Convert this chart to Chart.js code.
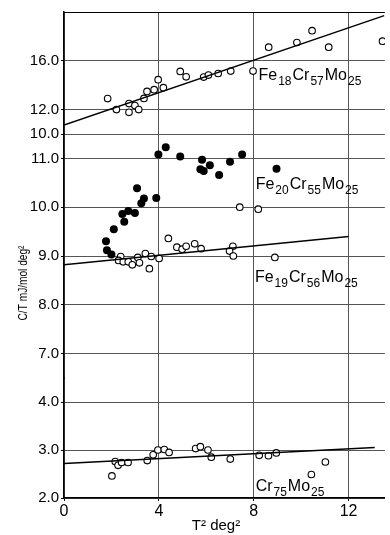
<!DOCTYPE html>
<html>
<head>
<meta charset="utf-8">
<script src="https://cdn.jsdelivr.net/npm/chart.js@4.4.1/dist/chart.umd.min.js"></script>
<style>
  body { margin: 0; background: #fff; }
</style>
</head>
<body>
<canvas id="myChart" width="390" height="535"></canvas>
<script>
// tick values for the x axis and the three pieces of the broken y axis
const xTicks = [0, 4, 8, 12];
const topTicks = [10, 12, 16];
const midTicks = [7, 8, 9, 10, 11];
const botTicks = [2, 3, 4];

// Fe18Cr57Mo25 (open circles, upper panel)
const fe18T2 = [1.84, 2.21, 2.74, 2.74, 2.99, 3.15, 3.37, 3.50, 3.80, 3.97, 4.19, 4.90, 5.15, 5.89, 6.09, 6.50, 7.03, 7.97, 8.63, 9.82, 10.46, 11.16, 13.43];
const fe18CT = [12.90, 12.00, 11.78, 12.49, 12.33, 12.00, 12.92, 13.49, 13.63, 14.45, 13.80, 15.13, 14.69, 14.67, 14.83, 14.96, 15.16, 15.16, 17.12, 17.50, 18.47, 17.12, 17.61];
const fe18FitT2 = [0, 13.5];
const fe18FitCT = [10.74, 19.7];

// Fe20Cr55Mo25 (filled circles)
const fe20T2 = [1.77, 1.81, 2.00, 2.10, 2.54, 2.46, 2.71, 2.99, 3.08, 3.26, 3.37, 3.89, 3.98, 4.29, 4.90, 5.82, 5.75, 5.89, 6.15, 6.54, 7.00, 7.51, 8.96];
const fe20CT = [9.30, 9.12, 9.03, 9.55, 9.70, 9.86, 9.92, 9.88, 10.39, 10.08, 10.18, 10.19, 11.08, 11.23, 11.04, 10.97, 10.78, 10.74, 10.86, 10.66, 10.93, 11.08, 10.79];

// Fe19Cr56Mo25 (open circles, middle panel)
const fe19T2 = [7.41, 8.19, 4.40, 4.76, 4.98, 5.15, 5.51, 5.78, 7.12, 6.98, 7.14, 8.89, 2.39, 2.30, 2.50, 2.71, 2.88, 3.11, 3.18, 3.43, 3.68, 3.60, 4.01];
const fe19CT = [10.00, 9.96, 9.36, 9.18, 9.14, 9.20, 9.25, 9.15, 9.20, 9.10, 9.00, 8.97, 8.99, 8.91, 8.88, 8.88, 8.82, 8.97, 8.86, 9.05, 8.99, 8.74, 8.95];
const fe19FitT2 = [0, 12];
const fe19FitCT = [8.82, 9.40];

// Cr75Mo25 (open circles, lower panel)
const cr75T2 = [2.02, 2.16, 2.28, 2.43, 2.70, 3.51, 3.76, 3.96, 4.23, 4.43, 5.55, 5.75, 6.07, 6.21, 7.01, 8.23, 8.62, 8.95, 10.43, 11.02];
const cr75CT = [2.46, 2.76, 2.68, 2.74, 2.74, 2.78, 2.90, 3.00, 3.01, 2.95, 3.03, 3.07, 3.00, 2.85, 2.81, 2.89, 2.88, 2.94, 2.49, 2.75];
const cr75FitT2 = [0, 13.1];
const cr75FitCT = [2.72, 3.05];

// curve labels: [element, subscript] parts and their anchor in data units
const labelParts = [
    [['Fe', '18'], ['Cr', '57'], ['Mo', '25']],
    [['Fe', '20'], ['Cr', '55'], ['Mo', '25']],
    [['Fe', '19'], ['Cr', '56'], ['Mo', '25']],
    [['Cr', '75'], ['Mo', '25']]
];
const labelAxis = ['yTop', 'yMid', 'yMid', 'yBot'];
const labelT2 = [8.2, 8.08, 8.05, 8.08];
const labelCT = [14.45, 10.37, 8.47, 2.15];

const FONT = '"Liberation Sans", Arial, sans-serif';

function pts(xs, ys) {
    return xs.map((x, i) => ({ x: x, y: ys[i] }));
}

function openSet(xs, ys, axis) {
    return {
        type: 'scatter', data: pts(xs, ys), yAxisID: axis,
        pointRadius: 3.3, pointBorderWidth: 1.1,
        pointBorderColor: '#000', pointBackgroundColor: '#fff'
    };
}

function fillSet(xs, ys, axis) {
    return {
        type: 'scatter', data: pts(xs, ys), yAxisID: axis,
        pointRadius: 4, pointBorderWidth: 0,
        pointBorderColor: '#000', pointBackgroundColor: '#000'
    };
}

function fitSet(xs, ys, axis) {
    return {
        type: 'line', data: pts(xs, ys), yAxisID: axis,
        borderColor: '#000', borderWidth: 1.5, pointRadius: 0, fill: false
    };
}

function drawFormula(ctx, parts, x, y) {
    ctx.textAlign = 'left';
    ctx.textBaseline = 'alphabetic';
    parts.forEach(p => {
        ctx.font = '16px ' + FONT;
        ctx.fillText(p[0], x, y);
        x += ctx.measureText(p[0]).width + 1;
        ctx.font = '12px ' + FONT;
        ctx.fillText(p[1], x, y + 5);
        x += ctx.measureText(p[1]).width + 1;
    });
}

const textPlugin = {
    id: 'textPlugin',
    beforeDatasetsDraw(chart) {
        // top frame line
        const a = chart.chartArea;
        const c = chart.ctx;
        c.save();
        c.strokeStyle = '#000';
        c.lineWidth = 1.2;
        c.beginPath();
        c.moveTo(a.left, a.top + 0.5);
        c.lineTo(a.right, a.top + 0.5);
        c.stroke();
        c.restore();
    },
    afterDraw(chart) {
        const c = chart.ctx;
        const xs = chart.scales.x;
        c.save();
        c.fillStyle = '#000';
        labelParts.forEach((parts, i) => {
            const px = xs.getPixelForValue(labelT2[i]);
            const py = chart.scales[labelAxis[i]].getPixelForValue(labelCT[i]);
            drawFormula(c, parts, px, py);
        });
        // axis titles
        c.font = '15px ' + FONT;
        c.textAlign = 'center';
        c.textBaseline = 'middle';
        c.fillText('T\u00b2 deg\u00b2', 216, 526);
        c.translate(23, 283);
        c.rotate(-Math.PI / 2);
        c.scale(0.78, 1);
        c.font = '13px ' + FONT;
        c.fillText('C/T mJ/mol deg\u00b2', 0, 0);
        c.restore();
    }
};

function yAxis(min, max, ticks, weight) {
    return {
        type: 'linear', position: 'left', stack: 'cy', stackWeight: weight,
        min: min, max: max,
        afterBuildTicks: s => { s.ticks = ticks.map(v => ({ value: v })); },
        afterFit: s => { s.width = 64; },
        ticks: {
            color: '#000', padding: 2,
            font: { family: FONT, size: 15 },
            callback: v => v.toFixed(1)
        },
        grid: { color: '#555', lineWidth: 1, tickLength: 3, tickColor: '#000' },
        border: { color: '#000', width: 1.5 }
    };
}

const ctx = document.getElementById('myChart').getContext('2d');

const myChart = new Chart(ctx, {
    data: {
        datasets: [
            fitSet(fe18FitT2, fe18FitCT, 'yTop'),
            fitSet(fe19FitT2, fe19FitCT, 'yMid'),
            fitSet(cr75FitT2, cr75FitCT, 'yBot'),
            openSet(fe18T2, fe18CT, 'yTop'),
            fillSet(fe20T2, fe20CT, 'yMid'),
            openSet(fe19T2, fe19CT, 'yMid'),
            openSet(cr75T2, cr75CT, 'yBot')
        ]
    },
    options: {
        responsive: false,
        devicePixelRatio: 1,
        animation: false,
        layout: { padding: { top: 12, right: 0, left: 0, bottom: 0 } },
        plugins: { legend: { display: false }, tooltip: { enabled: false } },
        scales: {
            x: {
                type: 'linear', min: 0, max: 13.53,
                afterBuildTicks: s => { s.ticks = xTicks.map(v => ({ value: v })); },
                afterFit: s => { s.height = 37; },
                ticks: { color: '#000', padding: 1, font: { family: FONT, size: 16 } },
                grid: { color: '#555', lineWidth: 1, tickLength: 3, tickColor: '#000' },
                border: { color: '#000', width: 1.5 }
            },
            yBot: yAxis(2, 4.5, botTicks, 120),
            yMid: yAxis(6.5, 11.5, midTicks, 244),
            yTop: yAxis(10, 20, topTicks, 122)
        }
    },
    plugins: [textPlugin]
});
</script>
</body>
</html>
